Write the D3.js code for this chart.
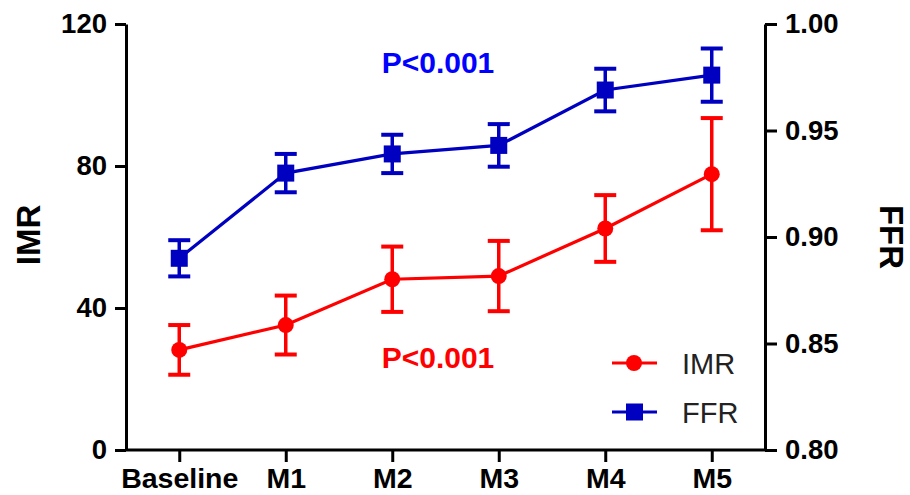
<!DOCTYPE html>
<html><head><meta charset="utf-8">
<script src="https://cdn.jsdelivr.net/npm/d3@7/dist/d3.min.js"></script>
<style>body{margin:0;background:#fff}svg{display:block}text{font-family:"Liberation Sans",Arial,sans-serif}</style>
</head><body><svg id="c" width="910" height="495"></svg>
<script>
const categories = ["Baseline","M1","M2","M3","M4","M5"];
const imrMean = [28.2, 35.2, 48.1, 49.0, 62.4, 77.7];
const imrErr  = [7.0, 8.3, 9.2, 9.9, 9.4, 15.8];
const ffrMean = [0.890, 0.930, 0.939, 0.943, 0.969, 0.976];
const ffrErr  = [0.0085, 0.009, 0.009, 0.010, 0.010, 0.0125];
const imrTicks = [0, 40, 80, 120];
const ffrTicks = [0.80, 0.85, 0.90, 0.95, 1.00];
const pLabel = "P<0.001";

const svg = d3.select("#c");
const L = 126, R = 765, T = 24, B = 450;
const RED = "#ff0000", BLUE = "#0000c0";
const x = d3.scalePoint().domain(categories).range([L, R]).padding(0.5);
const yL = d3.scaleLinear().domain([0, 120]).range([B, T]);
const yR = d3.scaleLinear().domain([0.80, 1.00]).range([B, T]);

function styleAxis(g, fs) {
  g.selectAll("path,line").attr("stroke", "#000").attr("stroke-width", 3);
  g.selectAll("text").attr("font-size", fs).attr("font-weight", "bold").attr("fill", "#000");
}
const gl = svg.append("g").attr("transform", `translate(${L},0)`)
  .call(d3.axisLeft(yL).tickValues(imrTicks).tickSize(11).tickSizeOuter(0).tickPadding(8));
styleAxis(gl, 27.5);
const gr = svg.append("g").attr("transform", `translate(${R},0)`)
  .call(d3.axisRight(yR).tickValues(ffrTicks).tickSize(12).tickSizeOuter(0).tickPadding(8).tickFormat(d3.format(".2f")));
styleAxis(gr, 27.5);
const gb = svg.append("g").attr("transform", `translate(0,${B})`)
  .call(d3.axisBottom(x).tickSize(12).tickSizeOuter(0).tickPadding(6));
styleAxis(gb, 28.5);
gb.select("path.domain").attr("d", `M${L},0H${R}`);

svg.append("text").attr("transform", "translate(40,235) rotate(-90)")
  .attr("text-anchor", "middle").attr("font-size", 33).attr("font-weight", "bold").text("IMR");
svg.append("text").attr("transform", "translate(880,237) rotate(90)")
  .attr("text-anchor", "middle").attr("font-size", 33).attr("font-weight", "bold").text("FFR");

function series(mean, err, y, color, shape) {
  const g = svg.append("g");
  const line = d3.line().x((d, i) => x(categories[i])).y(d => y(d));
  g.append("path").datum(mean).attr("d", line).attr("fill", "none").attr("stroke", color).attr("stroke-width", 3.2);
  mean.forEach((m, i) => {
    const cx = x(categories[i]);
    const top = y(m + err[i]), bot = y(m - err[i]);
    g.append("line").attr("x1", cx).attr("x2", cx).attr("y1", top).attr("y2", bot).attr("stroke", color).attr("stroke-width", 3.5);
    [top, bot].forEach(yy => g.append("line").attr("x1", cx - 11).attr("x2", cx + 11).attr("y1", yy).attr("y2", yy).attr("stroke", color).attr("stroke-width", 4));
    if (shape === "circle") g.append("circle").attr("cx", cx).attr("cy", y(m)).attr("r", 8).attr("fill", color);
    else g.append("rect").attr("x", cx - 8.5).attr("y", y(m) - 8.5).attr("width", 17).attr("height", 17).attr("fill", color);
  });
}
series(imrMean, imrErr, yL, RED, "circle");
series(ffrMean, ffrErr, yR, BLUE, "square");

svg.append("text").attr("x", 438).attr("y", 73).attr("text-anchor", "middle").attr("font-size", 30).attr("font-weight", "bold").attr("fill", "#0000ff").text(pLabel);
svg.append("text").attr("x", 438).attr("y", 368).attr("text-anchor", "middle").attr("font-size", 30).attr("font-weight", "bold").attr("fill", RED).text(pLabel);

const leg = [{name:"IMR", color:RED, shape:"circle", y:363}, {name:"FFR", color:BLUE, shape:"square", y:412}];
leg.forEach(d => {
  svg.append("line").attr("x1", 612).attr("x2", 657).attr("y1", d.y).attr("y2", d.y).attr("stroke", d.color).attr("stroke-width", 3);
  if (d.shape === "circle") svg.append("circle").attr("cx", 634).attr("cy", d.y).attr("r", 8).attr("fill", d.color);
  else svg.append("rect").attr("x", 626).attr("y", d.y - 8.5).attr("width", 17).attr("height", 17).attr("fill", d.color);
  svg.append("text").attr("x", 682).attr("y", d.y + 11).attr("font-size", 29).attr("fill", "#222").text(d.name);
});
</script></body></html>
